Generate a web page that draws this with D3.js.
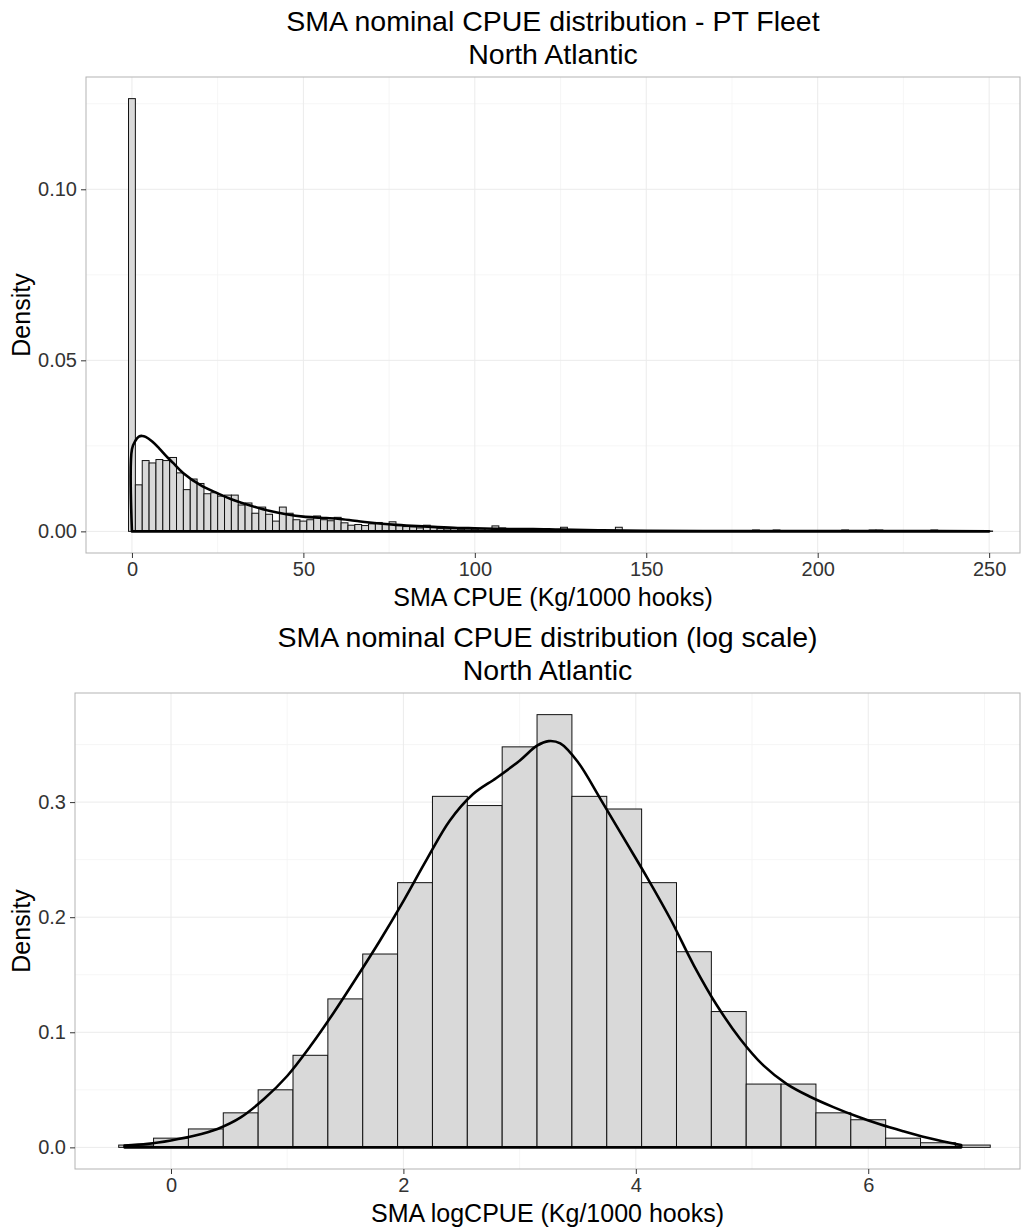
<!DOCTYPE html>
<html>
<head>
<meta charset="utf-8">
<script src="https://cdn.jsdelivr.net/npm/d3@7/dist/d3.min.js"></script>
<style>
  html, body { margin: 0; padding: 0; background: #ffffff; }
  svg { display: block; font-family: "Liberation Sans", Arial, sans-serif; }
</style>
</head>
<body>
<svg id="chart" width="1028" height="1232"></svg>
<script>
// ---------------- DATA ----------------
// Top panel: nominal CPUE histogram (binwidth 2, centred bins)
const topTitle = ["SMA nominal CPUE distribution - PT Fleet", "North Atlantic"];
const topXLabel = "SMA CPUE (Kg/1000 hooks)";
const topBinWidth = 2;
const topBinCenters = [0,2,4,6,8,10,12,14,16,18,20,22,24,26,28,30,32,34,36,38,40,42,44,46,48,50,
  52,54,56,58,60,62,64,66,68,70,72,74,76,78,80,82,84,86,88,90,92,94,96,98,100,
  102,104,106,108,110,112,114,116,118,120,122,124,126,128,130,132,134,136,138,140,142,144,146,148,150,
  182,188,208,216,218,234,250];
const topBinDensity = [0.1265,0.0136,0.0207,0.0200,0.0210,0.0207,0.0216,0.0171,0.0122,0.0153,0.0140,0.0110,0.0113,0.0103,0.0106,0.0106,0.0077,0.0083,0.0053,0.0071,0.0050,0.0030,0.0071,0.0053,0.0034,0.0030,
  0.0034,0.0045,0.0034,0.0031,0.0041,0.0025,0.0018,0.0020,0.0017,0.0022,0.0026,0.0021,0.0028,0.0018,0.0014,0.0013,0.0010,0.0018,0.0011,0.0008,0.0007,0.0008,0.0006,0.0007,0.0006,
  0.0007,0.0008,0.0016,0.0010,0.0004,0.0003,0.0004,0.0003,0.0003,0.0002,0.0003,0.0004,0.0012,0.0003,0.0002,0.0002,0.0002,0.0001,0.0002,0.0003,0.0012,0.0002,0.0001,0.0001,0.0001,
  0.0004,0.0004,0.0004,0.0004,0.0004,0.0004,0.0001];
const topDensX = [0,0,1,2,3,4,6,8,10,12,15,20,25,30,35,40,45,50,55,60,65,70,77,80,88,95,100,110,117,125,136,150,175,200,225,250];
const topDensY = [0,0.0240,0.0265,0.0277,0.0279,0.0276,0.0262,0.0242,0.0220,0.0200,0.0170,0.0135,0.0111,0.0090,0.0074,0.0060,0.0050,0.0043,0.0040,0.0037,0.0031,0.0025,0.0019,0.0017,0.0013,0.0010,0.0009,0.0007,0.0007,0.0005,0.0003,0.0002,0.0001,0.0001,0.0001,0.0000];
const topXDomain = [-13.4, 259];
const topXTicks = [0,50,100,150,200,250];
const topXMinor = [25,75,125,175,225];
const topYTicks = [0,0.05,0.10];
const topYMinor = [0.025,0.075,0.125];
const topYTickLabels = ["0.00","0.05","0.10"];

// Bottom panel: log CPUE histogram (binwidth 0.3, centred bins)
const botTitle = ["SMA nominal CPUE distribution (log scale)", "North Atlantic"];
const botXLabel = "SMA logCPUE (Kg/1000 hooks)";
const botBinWidth = 0.3;
const botBinCenters = [-0.3,0,0.3,0.6,0.9,1.2,1.5,1.8,2.1,2.4,2.7,3.0,3.3,3.6,3.9,4.2,4.5,4.8,5.1,5.4,5.7,6.0,6.3,6.6,6.9];
const botBinDensity = [0.002,0.008,0.016,0.030,0.050,0.080,0.129,0.168,0.230,0.305,0.297,0.348,0.376,0.305,0.294,0.230,0.170,0.118,0.055,0.055,0.030,0.024,0.008,0.004,0.002];
const botDensX = [-0.40,-0.2,0.0,0.2,0.4,0.6,0.8,1.0,1.2,1.4,1.6,1.8,2.0,2.2,2.4,2.6,2.8,3.0,3.15,3.25,3.35,3.5,3.7,3.9,4.1,4.3,4.5,4.7,4.9,5.1,5.3,5.5,5.7,5.9,6.1,6.3,6.5,6.7,6.8];
const botDensY = [0.0015,0.003,0.006,0.010,0.016,0.026,0.042,0.062,0.088,0.117,0.148,0.180,0.214,0.250,0.284,0.307,0.321,0.336,0.349,0.353,0.351,0.335,0.302,0.268,0.234,0.198,0.158,0.123,0.094,0.071,0.055,0.044,0.035,0.027,0.020,0.014,0.0085,0.004,0.002];
const botXDomain = [-0.826, 7.306];
const botXTicks = [0,2,4,6];
const botXMinor = [1,3,5,7];
const botYTicks = [0,0.1,0.2,0.3];
const botYMinor = [0.05,0.15,0.25,0.35];
const botYTickLabels = ["0.0","0.1","0.2","0.3"];

// ---------------- DRAW ----------------
const svg = d3.select("#chart");
svg.append("rect").attr("width",1028).attr("height",1232).attr("fill","#fff");
const FONT = "Liberation Sans, Arial, sans-serif";

function panel(cfg) {
  const g = svg.append("g");
  const L = cfg.left, R = cfg.right, T = cfg.top, B = cfg.bottom;
  const bins = cfg.centers.map((c,i)=>({x0:c-cfg.bw/2, x1:c+cfg.bw/2, y:cfg.dens[i]}));
  const dens = cfg.densX.map((x,i)=>({x:x, y:cfg.densY[i]}));
  const ymax = Math.max(d3.max(bins,d=>d.y), d3.max(dens,d=>d.y));
  const xs = d3.scaleLinear().domain(cfg.xDomain).range([L, R]);
  const ys = d3.scaleLinear().domain([-0.05*ymax, ymax*1.05]).range([B, T]);

  // grid
  const grid = g.append("g");
  grid.selectAll("line.xmn").data(cfg.xMinor).join("line")
    .attr("x1",d=>xs(d)).attr("x2",d=>xs(d)).attr("y1",T).attr("y2",B)
    .attr("stroke","#f4f4f4").attr("stroke-width",0.8);
  grid.selectAll("line.ymn").data(cfg.yMinor).join("line")
    .attr("y1",d=>ys(d)).attr("y2",d=>ys(d)).attr("x1",L).attr("x2",R)
    .attr("stroke","#f4f4f4").attr("stroke-width",0.8);
  grid.selectAll("line.xmj").data(cfg.xTicks).join("line")
    .attr("x1",d=>xs(d)).attr("x2",d=>xs(d)).attr("y1",T).attr("y2",B)
    .attr("stroke","#ebebeb").attr("stroke-width",1);
  grid.selectAll("line.ymj").data(cfg.yTicks).join("line")
    .attr("y1",d=>ys(d)).attr("y2",d=>ys(d)).attr("x1",L).attr("x2",R)
    .attr("stroke","#ebebeb").attr("stroke-width",1);

  // bars
  g.append("g").selectAll("rect").data(bins).join("rect")
    .attr("x", d=>xs(d.x0)).attr("width", d=>xs(d.x1)-xs(d.x0))
    .attr("y", d=>ys(d.y)).attr("height", d=>Math.max(0, ys(0)-ys(d.y)))
    .attr("fill","#d9d9d9").attr("stroke","#111").attr("stroke-width",1);

  // density outline
  const area = d3.area().x(d=>xs(d.x)).y0(ys(0)).y1(d=>ys(d.y)).curve(d3.curveCatmullRom.alpha(0.5));
  g.append("path").datum(dens).attr("d", area)
    .attr("fill","none").attr("stroke","#000").attr("stroke-width",2.6).attr("stroke-linejoin","round");

  // panel border
  g.append("rect").attr("x",L).attr("y",T).attr("width",R-L).attr("height",B-T)
    .attr("fill","none").attr("stroke","#b3b3b3").attr("stroke-width",1);

  // axes
  const xAxis = d3.axisBottom(xs).tickValues(cfg.xTicks).tickSize(5).tickPadding(4).tickFormat(d3.format("d"));
  const xa = g.append("g").attr("transform",`translate(0,${B})`).call(xAxis);
  xa.select(".domain").remove();
  xa.selectAll(".tick line").attr("stroke","#333").attr("stroke-width",1);
  xa.selectAll(".tick text").attr("font-size",20).attr("fill","#333").attr("font-family",FONT);

  const yAxis = d3.axisLeft(ys).tickValues(cfg.yTicks).tickSize(5).tickPadding(4)
    .tickFormat((d,i)=>cfg.yTickLabels[i]);
  const ya = g.append("g").attr("transform",`translate(${L},0)`).call(yAxis);
  ya.select(".domain").remove();
  ya.selectAll(".tick line").attr("stroke","#333").attr("stroke-width",1);
  ya.selectAll(".tick text").attr("font-size",20).attr("fill","#333").attr("font-family",FONT);

  // titles
  const cx = (L+R)/2;
  g.append("text").attr("x",cx).attr("y",cfg.titleY[0]).attr("text-anchor","middle")
    .attr("font-size",28.5).attr("fill","#000").text(cfg.title[0]);
  g.append("text").attr("x",cx).attr("y",cfg.titleY[1]).attr("text-anchor","middle")
    .attr("font-size",28.5).attr("fill","#000").text(cfg.title[1]);
  g.append("text").attr("x",cx).attr("y",cfg.xLabelY).attr("text-anchor","middle")
    .attr("font-size",25).attr("fill","#000").text(cfg.xLabel);
  g.append("text").attr("transform",`translate(29.5,${(T+B)/2}) rotate(-90)`).attr("text-anchor","middle")
    .attr("font-size",25).attr("fill","#000").text("Density");
}

panel({
  left:86, right:1020, top:77, bottom:553, xDomain: topXDomain,
  centers: topBinCenters, dens: topBinDensity, bw: topBinWidth,
  densX: topDensX, densY: topDensY,
  xTicks: topXTicks, xMinor: topXMinor, yTicks: topYTicks, yMinor: topYMinor,
  yTickLabels: topYTickLabels, title: topTitle, titleY:[31,64], xLabel: topXLabel, xLabelY: 606
});

panel({
  left:75, right:1020, top:693, bottom:1169, xDomain: botXDomain,
  centers: botBinCenters, dens: botBinDensity, bw: botBinWidth,
  densX: botDensX, densY: botDensY,
  xTicks: botXTicks, xMinor: botXMinor, yTicks: botYTicks, yMinor: botYMinor,
  yTickLabels: botYTickLabels, title: botTitle, titleY:[647,680], xLabel: botXLabel, xLabelY: 1222
});
</script>
</body>
</html>
